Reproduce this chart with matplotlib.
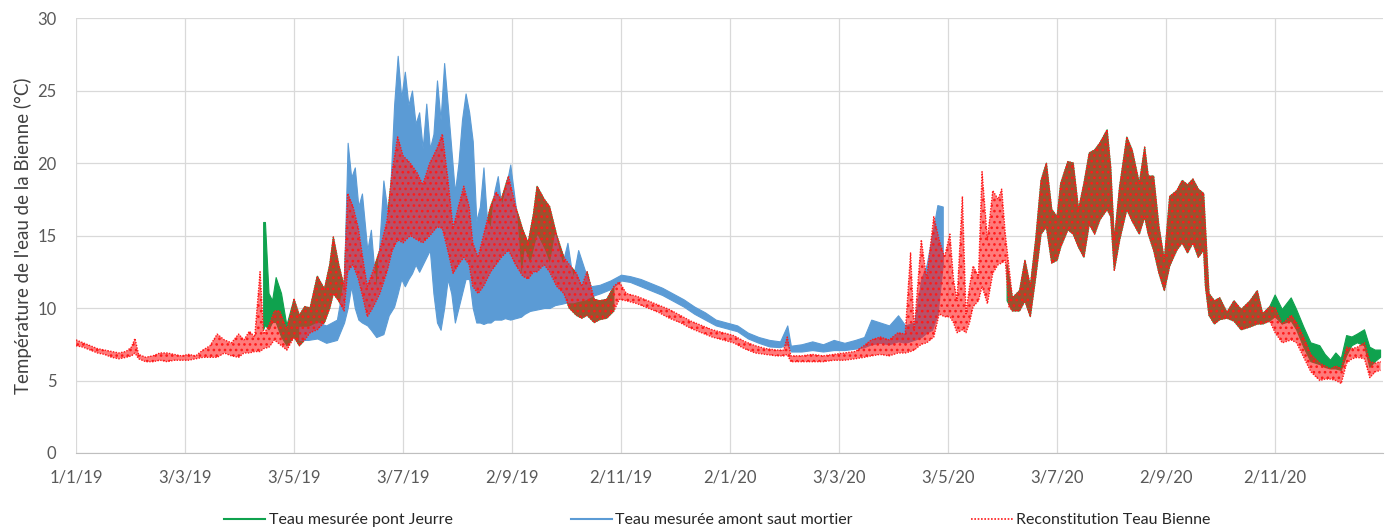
import numpy as np
import matplotlib
matplotlib.use("Agg")
import matplotlib.pyplot as plt
from matplotlib.lines import Line2D
import matplotlib.dates as mdates

plt.rcParams['font.family'] = ['Lato', 'DejaVu Sans']

# Day offsets counted from 1 January 2019, with daily low / high envelopes (°C)
red_day = [0, 4, 8, 12, 16, 20, 24, 28, 31, 33, 35, 39, 43, 47, 51, 55, 59, 63, 67, 71,
           75, 79, 83, 87, 91, 94, 97, 100, 103, 105, 108, 111, 114, 118, 122, 125, 128,
           131, 135, 139, 142, 144, 147, 150, 152, 155, 158, 161, 163, 166, 170, 174, 177,
           180, 183, 187, 191, 194, 198, 202, 205, 208, 211, 214, 217, 220, 222, 225, 228,
           232, 235, 238, 242, 246, 250, 253, 256, 258, 262, 265, 269, 273, 276, 280, 283,
           286, 290, 293, 297, 301, 304, 308, 314, 320, 326, 332, 338, 344, 350, 356, 362,
           368, 374, 380, 386, 392, 396, 398, 400, 406, 412, 418, 424, 430, 436, 441, 445,
           450, 455, 460, 464, 467, 469, 473, 476, 480, 483, 486, 489, 491, 493, 496, 498,
           500, 502, 505, 507, 510, 513, 516, 518, 520, 522, 524, 528, 531, 534, 537, 540,
           543, 546, 549, 551, 555, 558, 561, 564, 567, 570, 573, 577, 579, 581, 584, 588,
           591, 595, 598, 600, 603, 606, 609, 612, 616, 619, 622, 625, 628, 631, 632, 634,
           637, 640, 644, 648, 652, 657, 661, 664, 668, 671, 675, 680, 683, 687, 691, 696,
           699, 702, 705, 708, 711, 714, 717, 721, 724, 727, 730]
red_low = [7.4, 7.3, 7.1, 6.9, 6.8, 6.6, 6.5, 6.6, 6.7, 6.9, 6.5, 6.3, 6.3, 6.4, 6.3, 6.4,
           6.4, 6.4, 6.5, 6.6, 6.6, 6.6, 6.9, 6.7, 6.6, 6.9, 6.9, 7.0, 7.0, 7.2, 7.3, 7.8,
           7.5, 7.1, 8.0, 7.4, 7.8, 8.3, 8.5, 9.0, 10.0, 11.0, 10.5, 9.8, 12.5, 13.0, 12.0,
           10.5, 9.4, 10.0, 11.0, 12.5, 14.0, 14.7, 14.5, 15.0, 14.7, 14.5, 15.0, 15.6, 15.5,
           14.0, 12.4, 13.0, 13.5, 13.0, 11.5, 11.0, 11.5, 12.5, 13.0, 13.5, 14.0, 13.0, 12.2,
           12.0, 12.5, 12.5, 13.0, 12.5, 11.5, 11.0, 10.0, 9.5, 9.3, 9.5, 9.0, 9.2, 9.3, 9.8,
           10.6, 10.5, 10.3, 10.0, 9.7, 9.3, 9.0, 8.6, 8.3, 8.0, 7.8, 7.6, 7.2, 6.9, 6.8, 6.7,
           6.7, 6.8, 6.3, 6.3, 6.3, 6.3, 6.4, 6.4, 6.5, 6.6, 6.7, 6.8, 6.7, 6.9, 6.9, 7.0,
           7.1, 7.5, 7.6, 8.0, 9.6, 9.4, 9.4, 9.0, 8.3, 8.5, 8.3, 9.0, 10.1, 10.5, 11.5, 10.3,
           12.4, 13.0, 13.1, 13.3, 10.1, 9.8, 9.8, 10.5, 9.4, 12.1, 15.1, 15.6, 13.1, 13.3,
           14.2, 15.4, 15.1, 14.2, 13.5, 15.8, 15.1, 16.1, 16.8, 16.3, 12.6, 14.7, 16.8, 16.0,
           15.1, 16.3, 15.1, 14.0, 12.4, 11.2, 12.9, 14.0, 14.5, 13.8, 14.5, 13.5, 14.0, 11.5,
           9.5, 8.9, 9.2, 9.3, 9.1, 8.5, 8.7, 8.9, 8.9, 9.1, 8.3, 7.6, 7.8, 7.6, 6.6, 5.6,
           5.0, 5.1, 5.1, 5.0, 4.8, 6.2, 6.5, 6.6, 6.5, 5.2, 5.6, 5.7]
red_high = [7.8, 7.6, 7.4, 7.2, 7.1, 7.0, 6.9, 7.0, 7.3, 7.9, 6.8, 6.6, 6.7, 6.9, 6.9, 6.8,
            6.7, 6.8, 6.7, 7.1, 7.4, 8.2, 7.8, 7.6, 8.2, 7.8, 8.4, 8.0, 12.5, 8.2, 8.8, 9.8,
            9.8, 8.5, 10.6, 9.5, 10.1, 10.0, 12.2, 11.3, 13.0, 14.9, 13.0, 11.5, 17.9, 17.0,
            15.5, 13.0, 11.5, 12.5, 14.0, 16.0, 19.5, 21.8, 20.5, 20.0, 19.3, 18.5, 20.0,
            21.0, 22.0, 19.0, 15.5, 17.0, 18.4, 17.0, 14.5, 13.5, 15.0, 17.0, 18.0, 17.5,
            19.1, 17.0, 15.4, 14.5, 16.5, 18.4, 17.5, 17.0, 15.0, 13.5, 13.0, 12.4, 11.5,
            12.5, 10.6, 10.5, 10.6, 11.5, 11.8, 11.0, 10.8, 10.5, 10.2, 9.9, 9.5, 9.1, 8.8,
            8.5, 8.3, 8.1, 7.7, 7.4, 7.2, 7.1, 7.1, 8.0, 6.7, 6.7, 6.8, 6.7, 6.8, 6.9, 7.0,
            7.4, 7.8, 8.0, 7.8, 8.3, 8.2, 13.8, 8.4, 14.7, 12.0, 16.3, 14.7, 13.5, 15.1, 12.0,
            10.5, 17.7, 9.6, 11.5, 12.9, 12.2, 19.4, 14.7, 18.1, 17.5, 18.2, 15.1, 12.9, 10.7,
            11.2, 13.3, 11.5, 14.7, 18.8, 20.0, 16.8, 16.3, 18.6, 20.1, 20.0, 16.8, 18.6, 20.7,
            20.9, 21.4, 22.3, 19.7, 14.7, 18.4, 21.8, 20.9, 18.6, 21.1, 19.1, 19.1, 15.6, 13.3,
            17.7, 18.1, 18.8, 18.5, 18.9, 18.2, 17.9, 15.6, 11.0, 10.5, 10.7, 9.7, 10.5, 9.9,
            10.5, 11.2, 9.6, 10.1, 10.0, 8.9, 9.5, 9.0, 8.0, 6.8, 6.2, 6.0, 5.8, 6.0, 5.8, 7.3,
            7.2, 7.3, 7.6, 6.3, 6.2, 6.3]

green_day = [105, 106, 108, 110, 112, 115, 118, 122, 125, 128, 131, 135, 139, 142, 144, 147,
             150, 152, 155, 158, 161, 163, 166, 170, 174, 177, 180, 183, 187, 191, 194, 198,
             202, 205, 208, 211, 214, 217, 220, 222, 225, 228, 232, 235, 238, 242, 246, 250,
             253, 256, 258, 262, 265, 269, 273, 276, 280, 283, 286, 290, 293, 297, 301,
             302,
             521, 524, 528, 531, 534, 537, 540, 543, 546, 549, 551, 555, 558, 561, 564, 567,
             570, 573, 577, 579, 581, 584, 588, 591, 595, 598, 600, 603, 606, 609, 612, 616,
             619, 622, 625, 628, 631, 632, 634, 637, 640, 644, 648, 652, 657, 661, 664, 668,
             671, 675, 680, 683, 687, 691, 696, 699, 702, 705, 708, 711, 714, 717, 721, 724,
             727, 730]
green_low = [8.5, 8.8, 8.5, 9.0, 9.0, 8.0, 7.4, 8.0, 7.4, 7.8, 8.3, 8.5, 9.0, 10.0, 11.0,
             10.5, 9.8, 12.5, 13.0, 12.0, 10.5, 9.4, 10.0, 11.0, 12.5, 14.0, 14.7, 14.5, 15.0,
             14.7, 14.5, 15.0, 15.6, 15.5, 14.0, 12.4, 13.0, 13.5, 13.0, 11.5, 11.0, 11.5,
             12.5, 13.0, 13.5, 14.0, 13.0, 12.2, 12.0, 12.5, 12.5, 13.0, 12.5, 11.5, 11.0,
             10.0, 9.5, 9.3, 9.5, 9.0, 9.2, 9.3, 9.8,
             np.nan,
             10.5, 9.8, 9.8, 10.5, 9.4, 12.1, 15.1, 15.6, 13.1, 13.3, 14.2, 15.4, 15.1, 14.2,
             13.5, 15.8, 15.1, 16.1, 16.8, 16.3, 12.6, 14.7, 16.8, 16.0, 15.1, 16.3, 15.1,
             14.0, 12.4, 11.2, 12.9, 14.0, 14.5, 13.8, 14.5, 13.5, 14.0, 11.5, 9.5, 8.9, 9.2,
             9.3, 9.1, 8.5, 8.7, 8.9, 8.9, 9.1, 9.4, 8.9, 9.1, 8.5, 7.3, 6.3, 6.1, 5.9, 5.8,
             5.8, 5.7, 6.7, 7.4, 7.6, 7.4, 5.9, 6.3, 6.6]
green_high = [15.9, 15.9, 11.0, 10.5, 12.1, 11.0, 8.8, 10.6, 9.5, 10.1, 10.0, 12.2, 11.3,
              13.0, 14.9, 13.0, 11.5, 17.9, 17.0, 15.5, 13.0, 11.5, 12.5, 14.0, 16.0, 19.5,
              21.8, 20.5, 20.0, 19.3, 18.5, 20.0, 21.0, 22.0, 19.0, 15.5, 17.0, 18.4, 17.0,
              14.5, 13.5, 15.0, 17.0, 18.0, 17.5, 19.1, 17.0, 15.4, 14.5, 16.5, 18.4, 17.5,
              17.0, 15.0, 13.5, 13.0, 12.4, 11.5, 12.5, 10.6, 10.5, 10.6, 11.5,
              np.nan,
              13.0, 10.7, 11.2, 13.3, 11.5, 14.7, 18.8, 20.0, 16.8, 16.3, 18.6, 20.1, 20.0,
              16.8, 18.6, 20.7, 20.9, 21.4, 22.3, 19.7, 14.7, 18.4, 21.8, 20.9, 18.6, 21.1,
              19.1, 19.1, 15.6, 13.3, 17.7, 18.1, 18.8, 18.5, 18.9, 18.2, 17.9, 15.6, 11.0,
              10.5, 10.7, 9.7, 10.5, 9.9, 10.5, 11.2, 9.6, 10.1, 10.9, 9.9, 10.7, 9.9, 8.7,
              7.6, 7.4, 6.8, 6.4, 6.9, 6.5, 8.1, 8.0, 8.2, 8.5, 7.3, 7.1, 7.1]

blue_day = [125, 130, 135, 140, 146, 150, 152, 154, 156, 158, 160, 163, 165, 168, 172, 175,
            178, 180, 182, 184, 186, 188, 190, 192, 194, 196, 198, 200, 202, 204, 206, 208,
            210, 212, 214, 216, 218, 220, 222, 224, 226, 228, 230, 232, 234, 236, 238, 240,
            243, 246, 249, 251, 254, 258, 262, 265, 268, 272, 275, 278, 281, 285, 288, 293,
            299, 305, 310, 316, 322, 328, 334, 340, 346, 352, 358, 364, 370, 376, 382, 388,
            394, 398, 400, 406, 412, 418, 424, 430, 436, 441, 445, 450, 455, 460, 464, 469,
            473, 476, 479, 482, 485]
blue_low = [7.8, 7.8, 7.9, 7.6, 7.8, 9.0, 10.0, 11.5, 10.0, 9.2, 9.0, 8.8, 8.5, 8.0, 8.2,
            9.5, 10.1, 11.0, 12.0, 11.5, 12.0, 12.4, 13.0, 12.5, 13.0, 13.5, 14.0, 11.0, 9.0,
            8.5, 10.0, 12.0, 11.0, 9.0, 10.0, 11.0, 12.0, 12.0, 10.0, 9.0, 9.0, 8.9, 9.0, 9.0,
            9.2, 9.2, 9.2, 9.3, 9.2, 9.3, 9.4, 9.6, 9.8, 9.9, 10.0, 10.0, 10.2, 10.3, 10.4,
            10.4, 10.5, 10.6, 10.8, 11.0, 11.3, 11.9, 11.8, 11.5, 11.2, 10.9, 10.5, 10.1, 9.6,
            9.2, 8.8, 8.6, 8.4, 7.9, 7.6, 7.35, 7.3, 7.5, 7.0, 7.0, 7.1, 7.0, 7.1, 7.1, 7.2,
            7.3, 7.5, 7.6, 7.5, 7.7, 7.6, 7.8, 8.0, 8.3, 8.5, 9.5, 13.0]
blue_high = [8.7, 8.7, 9.0, 8.8, 9.2, 12.0, 21.4, 19.0, 19.7, 17.0, 17.9, 14.0, 15.4, 11.0,
             18.8, 16.0, 24.0, 27.4, 24.5, 26.3, 24.0, 25.0, 22.7, 23.5, 21.0, 24.1, 21.0,
             22.0, 25.7, 23.0, 26.9, 24.0, 21.0, 18.0, 20.0, 23.0, 24.8, 23.5, 21.5, 16.0,
             17.0, 19.7, 16.0, 15.5, 18.0, 19.1, 17.0, 18.0, 19.9, 17.0, 12.0, 14.0, 13.0,
             15.0, 14.0, 13.0, 15.1, 13.0, 14.5, 12.0, 14.0, 12.5, 11.5, 11.6, 11.9, 12.3,
             12.2, 12.0, 11.7, 11.4, 11.0, 10.6, 10.1, 9.7, 9.2, 9.0, 8.8, 8.3, 8.0, 7.8, 7.7,
             8.8, 7.4, 7.5, 7.7, 7.5, 7.8, 7.6, 7.8, 8.0, 9.2, 9.0, 8.8, 9.5, 8.8, 9.0, 12.0,
             13.0, 15.0, 17.1, 17.0]

tick_days = [0, 61, 122, 183, 244, 305, 366, 427, 488, 549, 610, 671]
y_ticks = [0, 5, 10, 15, 20, 25, 30]

series_labels = ["Teau mesurée pont Jeurre",
                 "Teau mesurée amont saut mortier",
                 "Reconstitution Teau Bienne"]
y_label = "Température de l'eau de la Bienne (°C)"

GREEN = "#0FA24E"
BLUE = "#5B9BD5"
RED = "#FF1A1A"
TEXT = "#595959"
GRID = "#D9D9D9"

start = np.datetime64('2019-01-01')


def to_dates(days):
    return start + np.asarray(days).astype('timedelta64[D]')


def date_label(value, pos):
    d = mdates.num2date(value)
    return f"{d.day}/{d.month}/{d.year % 100}"


fig = plt.figure(figsize=(13.87, 5.32), dpi=100)
ax = fig.add_axes([0.0548, 0.1485, 0.9425, 0.8175])

# measured at pont Jeurre
gx = to_dates(green_day)
ax.fill_between(gx, green_low, green_high, color=GREEN, lw=0.8, zorder=2)

# measured upstream of saut mortier
bx = to_dates(blue_day)
ax.fill_between(bx, blue_low, blue_high, color=BLUE, lw=0.8, zorder=3)

# reconstructed series: translucent red envelope with a dotted texture
rx = to_dates(red_day)
plt.rcParams['hatch.linewidth'] = 1.1
ax.fill_between(rx, red_low, red_high, facecolor=RED, edgecolor='none',
                alpha=0.58, zorder=4)
ax.fill_between(rx, red_low, red_high, facecolor='none', edgecolor=RED,
                hatch='...', lw=0, zorder=4)
ax.plot(rx, red_low, color=RED, lw=1.0, ls=(0, (1, 1)), zorder=5)
ax.plot(rx, red_high, color=RED, lw=1.0, ls=(0, (1, 1)), zorder=5)

ax.set_xlim(start, start + np.timedelta64(731, 'D') + np.timedelta64(12, 'h'))
ax.set_ylim(0, 30)
ax.set_yticks(y_ticks)
ax.set_xticks(to_dates(tick_days))
ax.xaxis.set_major_formatter(plt.FuncFormatter(date_label))

ax.grid(True, color=GRID, lw=0.9)
ax.set_axisbelow(True)
for side in ('top', 'right', 'left'):
    ax.spines[side].set_visible(False)
ax.spines['bottom'].set_color('#BFBFBF')
ax.tick_params(axis='both', length=0, labelsize=12, labelcolor=TEXT)
ax.tick_params(axis='y', pad=14)
ax.tick_params(axis='x', pad=12)

ax.set_ylabel(y_label, fontsize=13.5, color='#404040', labelpad=4)

handles = [Line2D([], [], color=GREEN, lw=1.5),
           Line2D([], [], color=BLUE, lw=1.5),
           Line2D([], [], color=RED, lw=1.2, ls=(0, (1, 1)))]
fig.legend(handles, series_labels, loc='center', bbox_to_anchor=(0.517, 0.022),
           ncol=3, frameon=False, fontsize=11.5, handlelength=2.6, handletextpad=0.2,
           columnspacing=7.4, labelcolor='#262626')

fig.savefig("out.png", dpi=100)
